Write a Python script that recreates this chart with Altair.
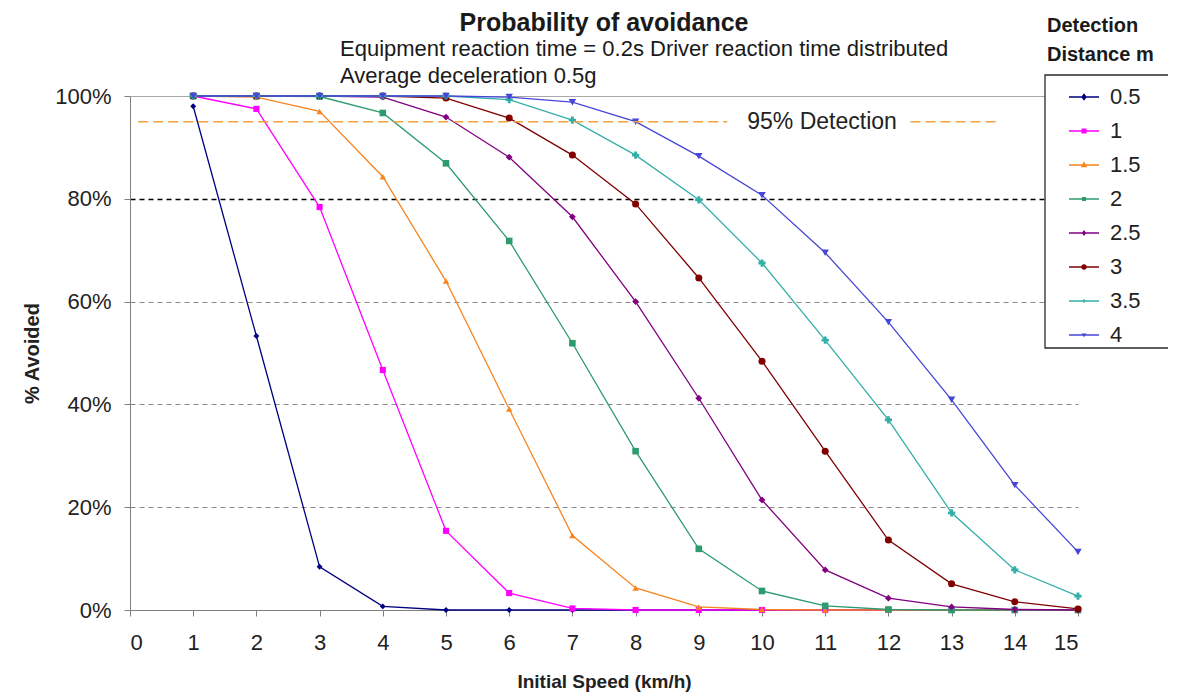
import altair as alt
import pandas as pd

FONT = "Liberation Sans"

speeds = list(range(1, 16))
distances = ["0.5", "1", "1.5", "2", "2.5", "3", "3.5", "4"]

s_05 = [98.0, 53.3, 8.4, 0.7, 0, 0, 0, 0, 0, 0, 0, 0, 0, 0, 0]
s_10 = [100, 97.5, 78.4, 46.7, 15.4, 3.3, 0.3, 0, 0, 0, 0, 0, 0, 0, 0]
s_15 = [100, 99.8, 97.0, 84.3, 64.0, 39.1, 14.5, 4.3, 0.6, 0.1, 0, 0, 0, 0, 0]
s_20 = [100, 100, 99.9, 96.7, 86.9, 71.8, 51.9, 30.9, 11.9, 3.7, 0.8, 0.1, 0, 0, 0]
s_25 = [100, 100, 100, 99.8, 95.9, 88.1, 76.5, 60.0, 41.2, 21.4, 7.8, 2.3, 0.6, 0.1, 0]
s_30 = [100, 100, 100, 100, 99.6, 95.7, 88.5, 79.0, 64.6, 48.4, 30.9, 13.6, 5.1, 1.6, 0.2]
s_35 = [100, 100, 100, 100, 100, 99.3, 95.3, 88.5, 79.8, 67.5, 52.5, 37.0, 18.9, 7.8, 2.7]
s_40 = [100, 100, 100, 100, 100, 99.8, 98.8, 95.0, 88.3, 80.7, 69.5, 56.0, 40.9, 24.3, 11.3]
series = [s_05, s_10, s_15, s_20, s_25, s_30, s_35, s_40]

colors = ["#000080", "#FF00FF", "#F7841E", "#2E9B6E", "#800080", "#800000", "#33AFA8", "#4646D8"]
shapes = ["diamond", "square", "triangle-up", "square", "diamond", "circle", "cross", "triangle-down"]
sizes = [35, 55, 60, 30, 20, 65, 30, 20]
legend_paths = [
    "M-1,0H1M0,-0.17L0.13,0L0,0.17L-0.13,0Z",
    "M-1,0H1M-0.12,-0.12H0.12V0.12H-0.12Z",
    "M-1,0H1M0,-0.15L0.14,0.11H-0.14Z",
    "M-1,0H1M-0.09,-0.09H0.09V0.09H-0.09Z",
    "M-1,0H1M0,-0.12L0.09,0L0,0.12L-0.09,0Z",
    "M-1,0H1M0.13,0A0.13,0.13 0 1,1 -0.13,0A0.13,0.13 0 1,1 0.13,0Z",
    "M-1,0H1M0,-0.12V0.12",
    "M-1,0H1M-0.08,-0.05H0.08L0,0.07Z",
]

x_ticks = list(range(0, 16))
y_ticks = [0, 20, 40, 60, 80, 100]

title_text = "Probability of avoidance"
sub1_text = "Equipment reaction time = 0.2s   Driver reaction time distributed"
sub2_text = "Average deceleration 0.5g"
legend_title = ["Detection", "Distance m"]
detect_label = "95% Detection"
detect_level = 95
detect_x_start = [0.13, 12.35]
detect_x_end = [9.45, 13.77]
detect_label_x = 10.95

marker_keys = ["m" + d for d in distances]

rows = []
for d, m, vals in zip(distances, marker_keys, series):
    for s, v in zip(speeds, vals):
        rows.append({"dist": d, "marker": m, "speed": s, "avoided": v})
df = pd.DataFrame(rows)

x_enc = alt.X(
    "speed:Q",
    scale=alt.Scale(domain=[0, 15], nice=False),
    axis=alt.Axis(
        values=x_ticks, format="d", title="Initial Speed (km/h)", grid=False,
        labelFontSize=22, labelFont=FONT, labelColor="#222222",
        labelPadding=16, tickSize=6, tickColor="#808080",
        domainColor="#808080", titleFont=FONT, titleFontSize=19,
        titleFontWeight="bold", titleColor="#222222", titlePadding=19,
    ),
)
y_enc = alt.Y(
    "avoided:Q",
    scale=alt.Scale(domain=[0, 100], nice=False),
    axis=alt.Axis(
        values=y_ticks, labelExpr="datum.value + '%'", title="% Avoided",
        labelFontSize=22, labelFont=FONT, labelColor="#222222",
        labelPadding=13, tickSize=6, tickColor="#808080",
        domainColor="#808080", titleFont=FONT, titleFontSize=20,
        titleFontWeight="bold", titleColor="#222222", titlePadding=12,
        grid=True,
        gridColor={"condition": {"test": "datum.value === 80", "value": "#000000"}, "value": "#8a8a8a"},
        gridDash={"condition": {"test": "datum.value === 100", "value": [1, 0]}, "value": [5, 4]},
        gridOpacity={"condition": {"test": "datum.value === 0", "value": 0}, "value": 1},
        gridWidth={"condition": {"test": "datum.value === 80", "value": 1.5}, "value": 1},
    ),
)

shape_expr = "".join(f"datum.value === '{d}' ? '{p}' : " for d, p in zip(distances, legend_paths)) + "'stroke'"

leg = alt.Legend(
    title=None, orient="none", legendX=915, legendY=-20,
    symbolSize=900, symbolStrokeWidth=1.4, symbolOpacity=1,
    symbolType={"expr": shape_expr},
    symbolFillColor={"expr": "scale('color', datum.value)"},
    symbolStrokeColor={"expr": "scale('color', datum.value)"},
    labelFontSize=22, labelFont=FONT, labelColor="#222222",
    rowPadding=7, padding=5, symbolOffset=18, labelOffset=10,
)

color_enc = alt.Color("dist:N", scale=alt.Scale(domain=distances, range=colors), legend=leg)

lines = alt.Chart(df).mark_line(strokeWidth=1.3).encode(
    x=x_enc, y=y_enc, color=color_enc, detail="dist:N", order="speed:Q",
)

points = alt.Chart(df).mark_point(filled=True, opacity=1).encode(
    x=x_enc, y=y_enc, color=color_enc,
    shape=alt.Shape("marker:N", scale=alt.Scale(domain=marker_keys, range=shapes), legend=None),
    size=alt.Size("marker:O", scale=alt.Scale(domain=marker_keys, range=sizes), legend=None),
)

legend_box = alt.Chart(alt.Data(values=[{}])).mark_rect(
    fill="white", stroke="#2a2a2a", strokeWidth=1.3
).encode(x=alt.value(915), x2=alt.value(1042), y=alt.value(-21), y2=alt.value(252))

det_df = pd.DataFrame({"x": detect_x_start, "x2": detect_x_end, "y": [detect_level] * 2})
det_rule = alt.Chart(det_df).mark_rule(color="#F2A13B", strokeDash=[10, 5], strokeWidth=1.5).encode(
    x="x:Q", x2="x2:Q", y="y:Q"
)
det_text = alt.Chart(pd.DataFrame({"x": [detect_label_x], "y": [detect_level], "t": [detect_label]})).mark_text(
    font=FONT, fontSize=23, color="#222222", align="center", baseline="middle"
).encode(x="x:Q", y="y:Q", text="t:N")


def label(text, x, y, size, weight="normal", align="left"):
    return alt.Chart(alt.Data(values=[{"t": text}])).mark_text(
        font=FONT, fontSize=size, fontWeight=weight, color="#1a1a1a",
        align=align, baseline="alphabetic",
    ).encode(x=alt.value(x), y=alt.value(y), text="t:N")


texts = [
    label(title_text, 474, -65, 25, "bold", "center"),
    label(sub1_text, 210, -40, 22),
    label(sub2_text, 210, -13, 22),
    label(legend_title[0], 917, -64, 20, "bold"),
    label(legend_title[1], 917, -35, 20, "bold"),
]

chart = alt.layer(lines, points, det_rule, det_text, legend_box, *texts).properties(
    width=948, height=514,
    autosize=alt.AutoSizeParams(type="none"),
    padding={"left": 122, "top": 88, "right": 90, "bottom": 82},
).configure_view(stroke=None)

chart.save("out.html", embed_options={"renderer": "svg", "actions": False})
